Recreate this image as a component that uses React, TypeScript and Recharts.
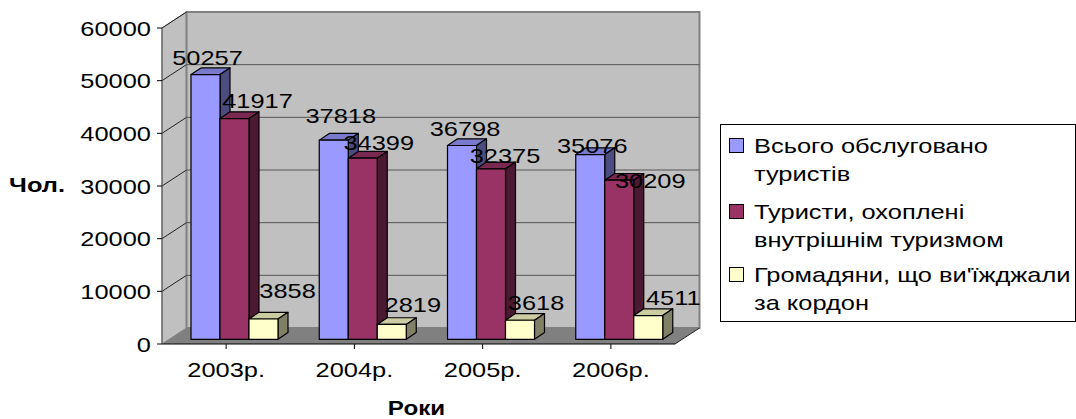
import { BarChart, Bar, XAxis, YAxis, ReferenceArea, LabelList, Legend, Label } from 'recharts';

const years = ['2003р.', '2004р.', '2005р.', '2006р.'];
const totalServed = [50257, 37818, 36798, 35076];
const domestic = [41917, 34399, 32375, 30209];
const abroad = [3858, 2819, 3618, 4511];
const yTicks = [0, 10000, 20000, 30000, 40000, 50000, 60000];
const seriesNames = ['Всього обслуговано туристів', 'Туристи, охоплені внутрішнім туризмом', "Громадяни, що ви'їжджали за кордон"];
const legendLines = [
  ['Всього обслуговано', 'туристів'],
  ['Туристи, охоплені', 'внутрішнім туризмом'],
  ["Громадяни, що ви'їжджали", 'за кордон'],
];

const data = years.map((year, i) => ({
  year,
  total: totalServed[i],
  domestic: domestic[i],
  abroad: abroad[i],
}));

const FONT = '"Liberation Sans", Arial, sans-serif';
const STRETCH = 1.21;
// fake 3d: how far the walls and bars are pushed back
const WALL_DX = 24.5;
const WALL_DY = 16;
const BAR_DX = 8;
const BAR_DY = 4.7;
const DEPTH_DX = 10;
const DEPTH_DY = 6.7;

// label offsets from the bar front (Excel moved these around), one per year
const totalShift = [[2, 10], [7, 17], [3, 9], [2, 2]];
const domesticShift = [[23, 11], [16, 8], [14, 6], [31, -8]];
const abroadShift = [[24, 21], [21, 12], [16, 10], [25, 11]];

function WideText({ x, y, anchor = 'middle', size = 21, bold = false, children }: any) {
  return (
    <text
      transform={`translate(${x},${y}) scale(${STRETCH},1)`}
      textAnchor={anchor}
      fontFamily={FONT}
      fontSize={size}
      fontWeight={bold ? 700 : 400}
      fill='#000'
    >
      {children}
    </text>
  );
}

function Walls({ x, y, width, height }: any) {
  const bottom = y + height;
  const right = x + width;
  return (
    <g>
      <polygon
        points={`${x},${bottom} ${x + WALL_DX},${bottom - WALL_DY} ${x + WALL_DX},${y - WALL_DY} ${x},${y}`}
        fill='#c0c0c0'
        stroke='#808080'
      />
      <polygon
        points={`${x + WALL_DX},${bottom - WALL_DY} ${right + WALL_DX},${bottom - WALL_DY} ${right + WALL_DX},${y - WALL_DY} ${x + WALL_DX},${y - WALL_DY}`}
        fill='#c0c0c0'
        stroke='#808080'
        strokeWidth={2}
      />
      <polygon
        points={`${x},${bottom} ${x + WALL_DX},${bottom - WALL_DY} ${right + WALL_DX},${bottom - WALL_DY} ${right},${bottom}`}
        fill='#808080'
      />
      <line x1={right} y1={bottom} x2={right + WALL_DX} y2={bottom - WALL_DY} stroke='#222' />
      {yTicks.slice(1).map((t) => {
        const ty = bottom - (t / 60000) * height;
        return (
          <g key={t}>
            <line x1={x} y1={ty} x2={x + WALL_DX} y2={ty - WALL_DY} stroke='#222' />
            {t < 60000 && (
              <line x1={x + WALL_DX} y1={ty - WALL_DY} x2={right + WALL_DX} y2={ty - WALL_DY} stroke='#555' />
            )}
          </g>
        );
      })}
    </g>
  );
}

const bar3d = (front: string, top: string, side: string) => (props: any) => {
  const x = props.x + BAR_DX;
  const y = props.y - BAR_DY;
  const { width: w, height: h } = props;
  return (
    <g stroke='#000' strokeWidth={1.2} strokeLinejoin='round'>
      <polygon
        points={`${x},${y} ${x + DEPTH_DX},${y - DEPTH_DY} ${x + w + DEPTH_DX},${y - DEPTH_DY} ${x + w},${y}`}
        fill={top}
      />
      <polygon
        points={`${x + w},${y} ${x + w + DEPTH_DX},${y - DEPTH_DY} ${x + w + DEPTH_DX},${y + h - DEPTH_DY} ${x + w},${y + h}`}
        fill={side}
      />
      <rect x={x} y={y} width={w} height={h} fill={front} />
    </g>
  );
};

const valueLabel = (shift: number[][]) => (props: any) => {
  const { x, y, width, value, index } = props;
  return (
    <WideText x={x + BAR_DX + width / 2 + shift[index][0]} y={y - BAR_DY - shift[index][1]}>
      {value}
    </WideText>
  );
};

function LegendBox({ payload }: any) {
  const rowTops = [7, 73, 136];
  return (
    <div
      style={{
        position: 'relative',
        width: 354,
        height: 196,
        border: '1px solid #000',
        background: '#fff',
        fontFamily: FONT,
        fontSize: 21,
      }}
    >
      {(payload || []).map((item: any, i: number) => (
        <div key={item.value}>
          <span
            style={{
              position: 'absolute',
              left: 8,
              top: rowTops[i] + 6,
              width: 15,
              height: 15,
              boxSizing: 'border-box',
              border: '1.5px solid #000',
              background: item.color,
            }}
          />
          {legendLines[i].map((line, j) => (
            <span
              key={line}
              style={{
                position: 'absolute',
                left: 33,
                top: rowTops[i] + j * 28,
                lineHeight: '28px',
                whiteSpace: 'nowrap',
                transform: `scaleX(${STRETCH})`,
                transformOrigin: 'left top',
              }}
            >
              {line}
            </span>
          ))}
        </div>
      ))}
    </div>
  );
}

export default function App() {
  return (
    <div style={{ position: 'absolute', left: 0, top: 0, width: 1076, height: 419, overflow: 'hidden' }}>
      <BarChart
        width={1076}
        height={419}
        data={data}
        margin={{ top: 28, right: 401, bottom: 0, left: 0 }}
        barSize={29}
        barGap={0}
      >
        <ReferenceArea y1={0} y2={60000} shape={Walls} />
        <XAxis
          dataKey='year'
          height={75}
          tickSize={5}
          stroke='#000'
          tick={(p: any) => (
            <WideText x={p.x} y={377}>
              {p.payload.value}
            </WideText>
          )}
        >
          <Label
            content={({ viewBox }: any) => (
              <WideText x={viewBox.x + viewBox.width / 2 - 2} y={415} size={20} bold>
                Роки
              </WideText>
            )}
          />
        </XAxis>
        <YAxis
          width={162}
          domain={[0, 60000]}
          ticks={yTicks}
          interval={0}
          tickSize={5}
          axisLine={{ stroke: '#555' }}
          tickLine={{ stroke: '#000' }}
          tick={(p: any) => (
            <WideText x={p.x - 4} y={p.y + 7.5} anchor='end'>
              {p.payload.value}
            </WideText>
          )}
        >
          <Label
            content={({ viewBox }: any) => (
              <WideText x={37} y={viewBox.y + viewBox.height / 2 + 6} size={21} bold>
                Чол.
              </WideText>
            )}
          />
        </YAxis>
        <Bar dataKey='total' name={seriesNames[0]} fill='#9999ff' isAnimationActive={false} shape={bar3d('#9999ff', '#7a7acc', '#4c4c80')}>
          <LabelList dataKey='total' content={valueLabel(totalShift)} />
        </Bar>
        <Bar dataKey='domestic' name={seriesNames[1]} fill='#993366' isAnimationActive={false} shape={bar3d('#993366', '#7a2952', '#4c1933')}>
          <LabelList dataKey='domestic' content={valueLabel(domesticShift)} />
        </Bar>
        <Bar dataKey='abroad' name={seriesNames[2]} fill='#ffffcc' isAnimationActive={false} shape={bar3d('#ffffcc', '#cccca3', '#808066')}>
          <LabelList dataKey='abroad' content={valueLabel(abroadShift)} />
        </Bar>
        {/* zero size wrapper so the legend does not eat into the plot */}
        <Legend
          layout='vertical'
          itemSorter={null}
          content={LegendBox}
          wrapperStyle={{ position: 'absolute', left: 720, top: 124, width: 0, height: 0, bottom: 'auto', right: 'auto' }}
        />
      </BarChart>
    </div>
  );
}
